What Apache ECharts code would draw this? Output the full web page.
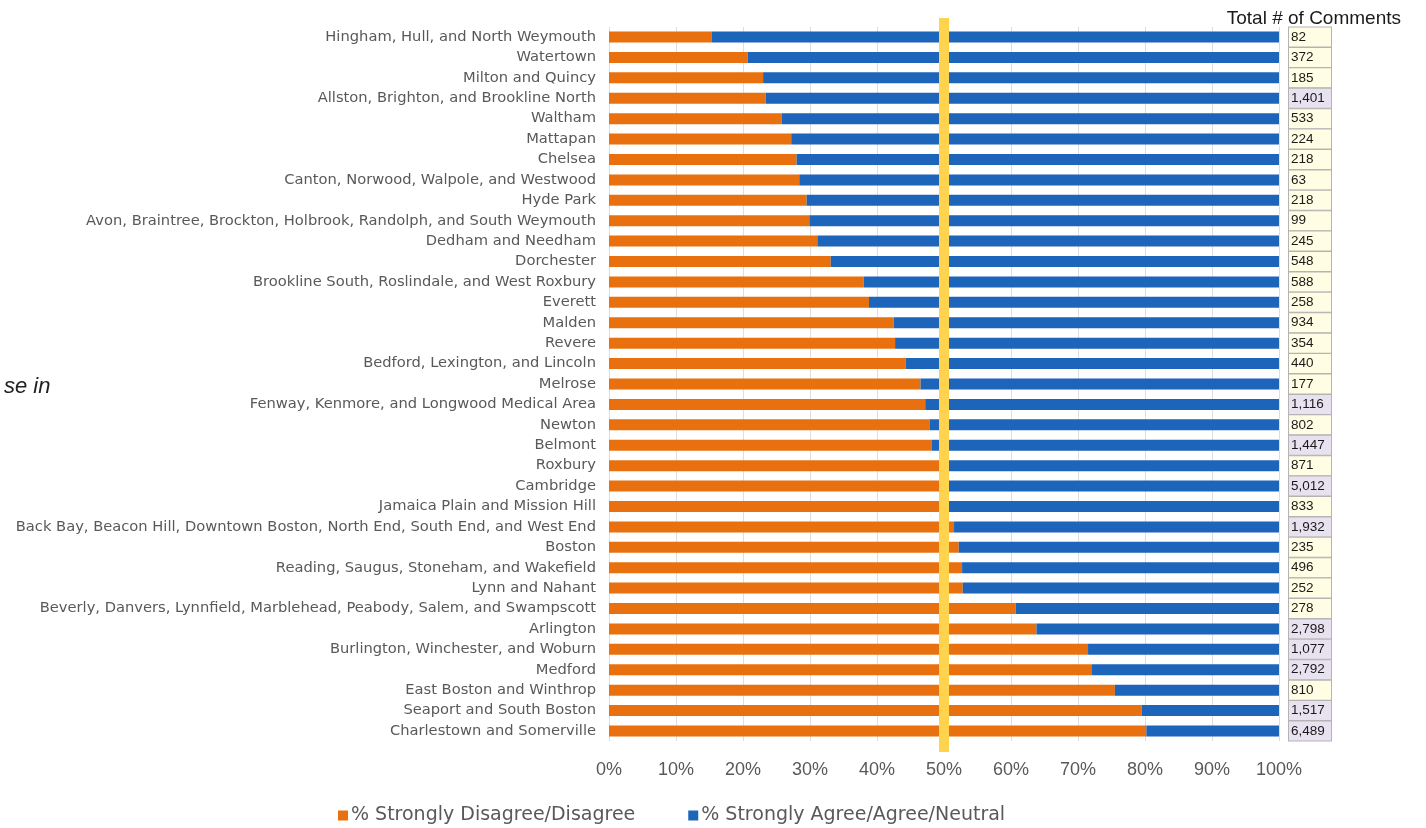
<!DOCTYPE html>
<html>
<head>
<meta charset="utf-8">
<script src="https://cdn.jsdelivr.net/npm/echarts@6/dist/echarts.min.js"></script>
<style>html,body{margin:0;padding:0;background:#fff}#c{width:1426px;height:828px}</style>
</head>
<body>
<div id="c"></div>
<script>
const categories = [
  "Hingham, Hull, and North Weymouth",
  "Watertown",
  "Milton and Quincy",
  "Allston, Brighton, and Brookline North",
  "Waltham",
  "Mattapan",
  "Chelsea",
  "Canton, Norwood, Walpole, and Westwood",
  "Hyde Park",
  "Avon, Braintree, Brockton, Holbrook, Randolph, and South Weymouth",
  "Dedham and Needham",
  "Dorchester",
  "Brookline South, Roslindale, and West Roxbury",
  "Everett",
  "Malden",
  "Revere",
  "Bedford, Lexington, and Lincoln",
  "Melrose",
  "Fenway, Kenmore, and Longwood Medical Area",
  "Newton",
  "Belmont",
  "Roxbury",
  "Cambridge",
  "Jamaica Plain and Mission Hill",
  "Back Bay, Beacon Hill, Downtown Boston, North End, South End, and West End",
  "Boston",
  "Reading, Saugus, Stoneham, and Wakefield",
  "Lynn and Nahant",
  "Beverly, Danvers, Lynnfield, Marblehead, Peabody, Salem, and Swampscott",
  "Arlington",
  "Burlington, Winchester, and Woburn",
  "Medford",
  "East Boston and Winthrop",
  "Seaport and South Boston",
  "Charlestown and Somerville"
];
const disagree = [15.3, 20.7, 23.0, 23.4, 25.8, 27.2, 28.0, 28.4, 29.5, 29.9, 31.1, 33.1, 38.0, 38.8, 42.5, 42.7, 44.3, 46.5, 47.2, 47.9, 48.2, 49.3, 49.6, 50.0, 51.5, 52.2, 52.7, 52.8, 60.7, 63.8, 71.5, 72.0, 75.5, 79.5, 80.2];
const agree = [84.7, 79.3, 77.0, 76.6, 74.2, 72.8, 72.0, 71.6, 70.5, 70.1, 68.9, 66.9, 62.0, 61.2, 57.5, 57.3, 55.7, 53.5, 52.8, 52.1, 51.8, 50.7, 50.4, 50.0, 48.5, 47.8, 47.3, 47.2, 39.3, 36.2, 28.5, 28.0, 24.5, 20.5, 19.8];
const comments = ["82", "372", "185", "1,401", "533", "224", "218", "63", "218", "99", "245", "548", "588", "258", "934", "354", "440", "177", "1,116", "802", "1,447", "871", "5,012", "833", "1,932", "235", "496", "252", "278", "2,798", "1,077", "2,792", "810", "1,517", "6,489"];
const xTicks = [0, 10, 20, 30, 40, 50, 60, 70, 80, 90, 100];
const threshold = [[50, 0], [50, 1]];

const chart = echarts.init(document.getElementById('c'), null, {renderer: 'canvas'});
const font = '"Liberation Sans", Arial, sans-serif';
const wide = '"DejaVu Sans", sans-serif';
const boxStyle = (bg) => ({
  width: 40, height: 19, lineHeight: 19, padding: [0, 0, 0, 2],
  backgroundColor: bg, borderColor: '#b4b4b4', borderWidth: 1,
  fontSize: 13.5, color: '#1a1a1a', fontFamily: font
});
chart.setOption({
  animation: false,
  backgroundColor: '#ffffff',
  textStyle: {fontFamily: font},
  title: {
    text: 'Total # of Comments', right: 20, top: 4,
    textStyle: {fontSize: 19, fontWeight: 'normal', color: '#1a1a1a', fontFamily: font}
  },
  graphic: [{
    type: 'text', left: 4, top: 376,
    style: {text: 'se in', font: 'italic 22px "Liberation Sans", Arial, sans-serif', fill: '#222'}
  }],
  legend: {
    left: 333, top: 801, itemWidth: 10, itemHeight: 10, itemGap: 53,
    icon: 'rect',
    textStyle: {fontSize: 19, color: '#595959', fontFamily: wide, padding: [0, 0, 0, -2]},
    data: ['% Strongly Disagree/Disagree', '% Strongly Agree/Agree/Neutral']
  },
  grid: [
    {left: 609, right: 147, top: 26.8, bottom: 86.8},
    {left: 609, right: 147, top: 18, bottom: 76}
  ],
  xAxis: [{
    type: 'value', gridIndex: 0, min: xTicks[0], max: xTicks[xTicks.length - 1], interval: 10,
    axisLine: {show: false}, axisTick: {show: false},
    splitLine: {show: true, lineStyle: {color: '#dedede', width: 1}},
    axisLabel: {formatter: '{value}%', fontSize: 18, color: '#595959', margin: 20, fontFamily: font}
  }, {
    type: 'value', gridIndex: 1, min: 0, max: 100, show: false
  }],
  yAxis: [{
    type: 'category', gridIndex: 0, data: categories, inverse: true,
    axisLine: {show: false}, axisTick: {show: false},
    axisLabel: {fontSize: 14.7, color: '#595959', margin: 13, fontFamily: wide, interval: 0}
  }, {
    type: 'category', gridIndex: 0, data: comments, inverse: true, position: 'right',
    axisLine: {show: false}, axisTick: {show: false},
    axisLabel: {
      margin: 10, align: 'left', interval: 0, showMinLabel: true, showMaxLabel: true, hideOverlap: false,
      formatter: (v) => {
        const n = parseInt(v.replace(/,/g, ''), 10);
        return '{' + (n >= 1000 ? 'hi' : 'lo') + '|' + v + '}';
      },
      rich: {hi: boxStyle('#e8e2f0'), lo: boxStyle('#fffde3')}
    }
  }, {
    type: 'value', gridIndex: 1, min: 0, max: 1, show: false
  }],
  series: [{
    name: '% Strongly Disagree/Disagree', type: 'bar', stack: 'total',
    xAxisIndex: 0, yAxisIndex: 0, barWidth: 11,
    itemStyle: {color: '#E8700F'}, data: disagree
  }, {
    name: '% Strongly Agree/Agree/Neutral', type: 'bar', stack: 'total',
    xAxisIndex: 0, yAxisIndex: 0, barWidth: 11,
    itemStyle: {color: '#1C65BA'}, data: agree
  }, {
    name: 'threshold', type: 'line', xAxisIndex: 1, yAxisIndex: 2,
    data: threshold, symbol: 'none', silent: true, z: 10,
    lineStyle: {color: '#FFD34E', width: 10}
  }]
});
</script>
</body>
</html>
